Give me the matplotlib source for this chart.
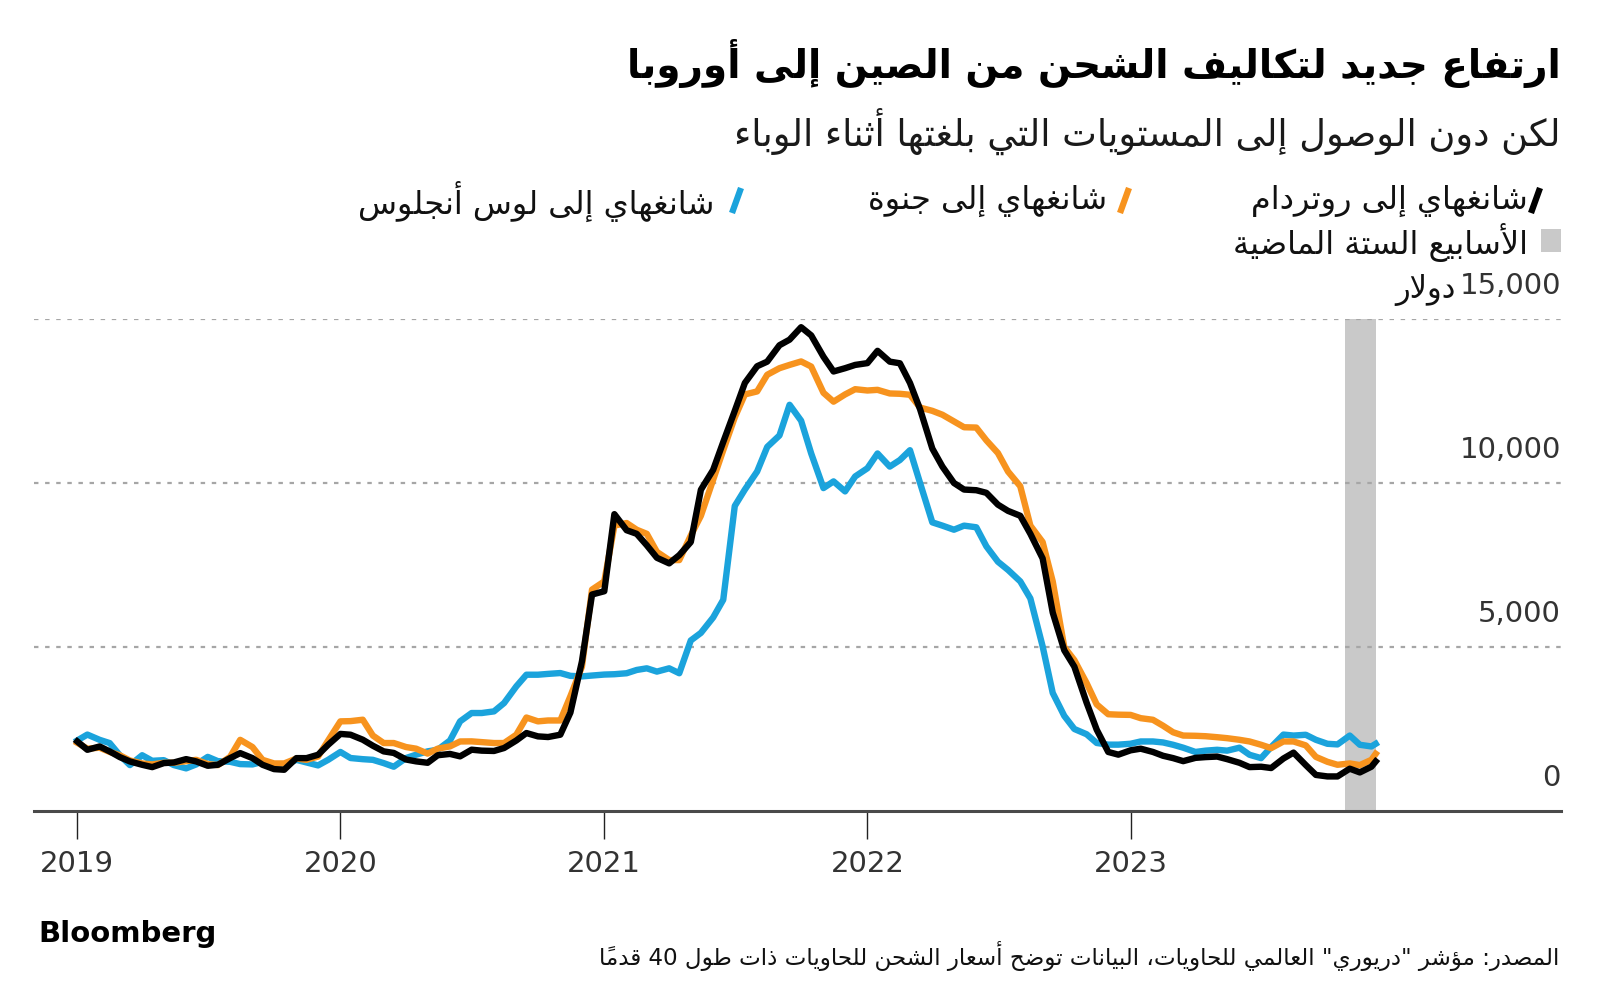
import matplotlib
matplotlib.use("Agg")
import matplotlib.pyplot as plt
from matplotlib.lines import Line2D
from matplotlib.patches import Rectangle
import pandas as pd

# Data (Drewry WCI, USD per 40ft container, semi-monthly)

dates = list(pd.date_range("2019-01-01", periods=119, freq="SMS")) + [pd.Timestamp("2023-12-07")]

rotterdam = [
    2120, 1866, 1968, 1816, 1643, 1511, 1409, 1338, 1460, 1480,
    1582, 1511, 1379, 1409, 1612, 1765, 1612, 1409, 1277, 1257,
    1612, 1612, 1714, 2019, 2350, 2326, 2174, 1990, 1818, 1770,
    1570, 1513, 1470, 1700, 1740, 1666, 1869, 1840, 1830, 1920,
    2150, 2377, 2275, 2255, 2326, 3000, 4560, 6600, 6700, 9050,
    8560, 8450, 8100, 7720, 7550, 7800, 8200, 9794, 10400, 11250,
    12200, 13050, 13560, 13700, 14200, 14370, 14750, 14500, 13850, 13400,
    13500, 13600, 13655, 14030, 13700, 13650, 13050, 12250, 11050, 10500,
    10000, 9800, 9780, 9700, 9340, 9150, 9000, 8450, 7700, 6050,
    4900, 4400, 3300, 2480, 1800, 1718, 1850, 1900, 1800, 1684,
    1612, 1520, 1620, 1643, 1660, 1580, 1470, 1338, 1350, 1310,
    1600, 1780, 1400, 1100, 1054, 1054, 1290, 1176, 1350, 1511,
]

genoa = [
    2080, 1900, 1930, 1800, 1700, 1540, 1450, 1420, 1470, 1470,
    1520, 1560, 1430, 1400, 1650, 2170, 1950, 1560, 1450, 1450,
    1600, 1560, 1660, 2150, 2733, 2740, 2783, 2300, 2072, 2072,
    1950, 1900, 1750, 1900, 1970, 2120, 2123, 2100, 2072, 2072,
    2326, 2850, 2733, 2760, 2760, 3500, 4400, 6750, 7000, 8700,
    8780, 8575, 8450, 7900, 7650, 7650, 8400, 9000, 10100, 11000,
    12000, 12700, 12792, 13300, 13500, 13600, 13706, 13550, 12750, 12480,
    12700, 12860, 12820, 12840, 12730, 12720, 12690, 12300, 12200, 12081,
    11878, 11700, 11690, 11300, 10913, 10350, 9900, 8700, 8200, 7000,
    5000, 4600, 3900, 3250, 2950, 2937, 2930, 2830, 2781, 2600,
    2400, 2300, 2293, 2280, 2250, 2220, 2171, 2120, 2019, 1917,
    2120, 2120, 2000, 1650, 1500, 1409, 1450, 1400, 1560, 1744,
]

los_angeles = [
    2150, 2330, 2170, 2070, 1700, 1400, 1700, 1530, 1550, 1400,
    1300, 1420, 1650, 1520, 1500, 1430, 1420, 1500, 1400, 1400,
    1560, 1480, 1390, 1560, 1800, 1615, 1580, 1560, 1460, 1350,
    1615, 1717, 1818, 1869, 2150, 2733, 2987, 2987, 3037, 3291,
    3800, 4155, 4155, 4180, 4206, 4120, 4104, 4130, 4160, 4170,
    4200, 4300, 4350, 4250, 4350, 4200, 5200, 5430, 5900, 6440,
    9300, 9800, 10350, 11100, 11450, 12385, 11900, 10900, 9845, 10049,
    9744, 10200, 10450, 10900, 10500, 10700, 11000, 10000, 8800, 8700,
    8576, 8700, 8650, 8068, 7600, 7350, 7000, 6480, 5020, 3600,
    2900, 2500, 2340, 2074, 2023, 2023, 2050, 2120, 2120, 2090,
    2019, 1930, 1800, 1840, 1866, 1840, 1930, 1714, 1612, 1950,
    2330, 2300, 2324, 2171, 2049, 2030, 2300, 2019, 1968, 2049,
]

year_ticks = ["2019", "2020", "2021", "2022", "2023"]
y_ticks = [0, 5000, 10000, 15000]
band_start = pd.Timestamp("2023-10-26")
band_end = pd.Timestamp("2023-12-07")

title = "ارتفاع جديد لتكاليف الشحن من الصين إلى أوروبا"
subtitle = "لكن دون الوصول إلى المستويات التي بلغتها أثناء الوباء"
label_rotterdam = "شانغهاي إلى روتردام"
label_genoa = "شانغهاي إلى جنوة"
label_la = "شانغهاي إلى لوس أنجلوس"
label_band = "الأسابيع الستة الماضية"
unit_label = "دولار"
source = 'المصدر: مؤشر "دريوري" العالمي للحاويات، البيانات توضح أسعار الشحن للحاويات ذات طول 40 قدماً'

BLACK = "#000000"
ORANGE = "#f7931e"
BLUE = "#1ba3dc"
BAND = "#c9c9c9"

# Arabic shaping (matplotlib has no text shaping, so use presentation forms)

FORMS = {
    "\u0621": ("\uFE80", None, None, None),
    "\u0622": ("\uFE81", "\uFE82", None, None),
    "\u0623": ("\uFE83", "\uFE84", None, None),
    "\u0624": ("\uFE85", "\uFE86", None, None),
    "\u0625": ("\uFE87", "\uFE88", None, None),
    "\u0626": ("\uFE89", "\uFE8A", "\uFE8B", "\uFE8C"),
    "\u0627": ("\uFE8D", "\uFE8E", None, None),
    "\u0628": ("\uFE8F", "\uFE90", "\uFE91", "\uFE92"),
    "\u0629": ("\uFE93", "\uFE94", None, None),
    "\u062A": ("\uFE95", "\uFE96", "\uFE97", "\uFE98"),
    "\u062B": ("\uFE99", "\uFE9A", "\uFE9B", "\uFE9C"),
    "\u062C": ("\uFE9D", "\uFE9E", "\uFE9F", "\uFEA0"),
    "\u062D": ("\uFEA1", "\uFEA2", "\uFEA3", "\uFEA4"),
    "\u062E": ("\uFEA5", "\uFEA6", "\uFEA7", "\uFEA8"),
    "\u062F": ("\uFEA9", "\uFEAA", None, None),
    "\u0630": ("\uFEAB", "\uFEAC", None, None),
    "\u0631": ("\uFEAD", "\uFEAE", None, None),
    "\u0632": ("\uFEAF", "\uFEB0", None, None),
    "\u0633": ("\uFEB1", "\uFEB2", "\uFEB3", "\uFEB4"),
    "\u0634": ("\uFEB5", "\uFEB6", "\uFEB7", "\uFEB8"),
    "\u0635": ("\uFEB9", "\uFEBA", "\uFEBB", "\uFEBC"),
    "\u0636": ("\uFEBD", "\uFEBE", "\uFEBF", "\uFEC0"),
    "\u0637": ("\uFEC1", "\uFEC2", "\uFEC3", "\uFEC4"),
    "\u0638": ("\uFEC5", "\uFEC6", "\uFEC7", "\uFEC8"),
    "\u0639": ("\uFEC9", "\uFECA", "\uFECB", "\uFECC"),
    "\u063A": ("\uFECD", "\uFECE", "\uFECF", "\uFED0"),
    "\u0641": ("\uFED1", "\uFED2", "\uFED3", "\uFED4"),
    "\u0642": ("\uFED5", "\uFED6", "\uFED7", "\uFED8"),
    "\u0643": ("\uFED9", "\uFEDA", "\uFEDB", "\uFEDC"),
    "\u0644": ("\uFEDD", "\uFEDE", "\uFEDF", "\uFEE0"),
    "\u0645": ("\uFEE1", "\uFEE2", "\uFEE3", "\uFEE4"),
    "\u0646": ("\uFEE5", "\uFEE6", "\uFEE7", "\uFEE8"),
    "\u0647": ("\uFEE9", "\uFEEA", "\uFEEB", "\uFEEC"),
    "\u0648": ("\uFEED", "\uFEEE", None, None),
    "\u0649": ("\uFEEF", "\uFEF0", None, None),
    "\u064A": ("\uFEF1", "\uFEF2", "\uFEF3", "\uFEF4"),
}
LAM_ALEF = {
    "\u0622": ("\uFEF5", "\uFEF6"),
    "\u0623": ("\uFEF7", "\uFEF8"),
    "\u0625": ("\uFEF9", "\uFEFA"),
    "\u0627": ("\uFEFB", "\uFEFC"),
}


def is_mark(c):
    return "\u064B" <= c <= "\u065F" or c == "\u0670"


def joins_next(c):
    if len(c) == 2:
        return False
    f = FORMS.get(c)
    return f is not None and f[2] is not None


def joins_prev(c):
    if len(c) == 2:
        return True
    f = FORMS.get(c)
    return f is not None and f[1] is not None


def shape(text):
    bases = []
    for c in text:
        if is_mark(c) and bases:
            bases[-1][1] += c
        else:
            bases.append([c, ""])
    merged = []
    i = 0
    while i < len(bases):
        c, m = bases[i]
        if c == "\u0644" and i + 1 < len(bases) and bases[i + 1][0] in LAM_ALEF:
            merged.append([c + bases[i + 1][0], m + bases[i + 1][1]])
            i += 2
        else:
            merged.append([c, m])
            i += 1
    clusters = []
    for j, (c, m) in enumerate(merged):
        p = j > 0 and joins_next(merged[j - 1][0]) and joins_prev(c)
        n = j + 1 < len(merged) and joins_next(c) and joins_prev(merged[j + 1][0])
        if len(c) == 2:
            g = LAM_ALEF[c[1]][1 if p else 0]
        elif c in FORMS:
            iso, fin, ini, med = FORMS[c]
            if p and n:
                g = med
            elif p:
                g = fin
            elif n:
                g = ini
            else:
                g = iso
        else:
            g = c
        clusters.append(g + m)
    return clusters


def rtl(text):
    runs = []
    for cl in shape(text):
        ltr = cl[0].isdigit()
        if runs and runs[-1][0] == ltr:
            runs[-1][1].append(cl)
        else:
            runs.append([ltr, [cl]])
    out = ""
    for ltr, cls in reversed(runs):
        out += "".join(cls if ltr else reversed(cls))
    return out


# Figure

W, H = 1600, 989


def fx(x):
    return x / W


def fy(y):
    return 1 - y / H


plt.rcParams["font.family"] = ["DejaVu Sans"]

fig = plt.figure(figsize=(16, 9.89), dpi=100)
fig.patch.set_facecolor("white")
ax = fig.add_axes([fx(34), fy(811), fx(1561) - fx(34), fy(319) - fy(811)])

ax.axvspan(band_start, band_end, color=BAND, lw=0, zorder=0)
for v in y_ticks[1:]:
    ax.axhline(v, color="#a6a6a6", lw=1.6, ls=(0, (2, 3)), zorder=1)

ax.plot(dates, los_angeles, color=BLUE, lw=4.6, solid_joinstyle="round", zorder=3)
ax.plot(dates, genoa, color=ORANGE, lw=4.6, solid_joinstyle="round", zorder=4)
ax.plot(dates, rotterdam, color=BLACK, lw=4.6, solid_joinstyle="round", zorder=5)

ax.set_ylim(0, 15000)
ax.set_xlim(pd.Timestamp("2018-11-02"), pd.Timestamp("2024-08-20"))

for s in ["top", "left", "right"]:
    ax.spines[s].set_visible(False)
ax.spines["bottom"].set_color("#4a4a4a")
ax.spines["bottom"].set_linewidth(2.2)
ax.spines["bottom"].set_zorder(6)

ax.set_xticks([pd.Timestamp(y + "-01-01") for y in year_ticks])
ax.set_xticklabels(year_ticks)
ax.tick_params(axis="x", length=20, width=1, color="#222222", pad=8,
               labelsize=21, labelcolor="#333333")
ax.set_yticks([])

ytrans = ax.get_yaxis_transform()
labels = {}
for v in y_ticks:
    labels[v] = ax.annotate(f"{v:,}", xy=(1, v), xycoords=ytrans, xytext=(0, 24),
                            textcoords="offset points", ha="right", va="center",
                            fontsize=21, color="#333333")
ax.annotate(rtl(unit_label), xy=(0, 0.5), xycoords=labels[15000], xytext=(-3, -3),
            textcoords="offset points", ha="right", va="center",
            fontsize=22, color="#111111")

# Titles

fig.text(fx(1561), fy(63), rtl(title), ha="right", va="center",
         fontsize=28, fontweight="bold", color="#000000")
fig.text(fx(1561), fy(131), rtl(subtitle), ha="right", va="center",
         fontsize=26.5, color="#1a1a1a")

# Legend

legend_items = [
    (label_rotterdam, BLACK, 1528, 1531),
    (label_genoa, ORANGE, 1107, 1120),
    (label_la, BLUE, 714, 732),
]
for text, color, tx, sx in legend_items:
    fig.text(fx(tx), fy(201), rtl(text), ha="right", va="center",
             fontsize=23, color="#111111")
    fig.add_artist(Line2D([fx(sx), fx(sx + 9)], [fy(213), fy(188)],
                          color=color, lw=4.5, solid_capstyle="butt"))

fig.add_artist(Rectangle((fx(1541), fy(252)), fx(20), fy(229) - fy(252),
                         color=BAND, lw=0))
fig.text(fx(1528), fy(242), rtl(label_band), ha="right", va="center",
         fontsize=23, color="#111111")

# Footer

fig.text(fx(38), fy(934), "Bloomberg", ha="left", va="center",
         fontsize=21, fontweight="bold", color="#000000")
fig.text(fx(1559), fy(956), rtl(source), ha="right", va="center",
         fontsize=16.6, color="#111111")

fig.savefig("out.png", dpi=100)
